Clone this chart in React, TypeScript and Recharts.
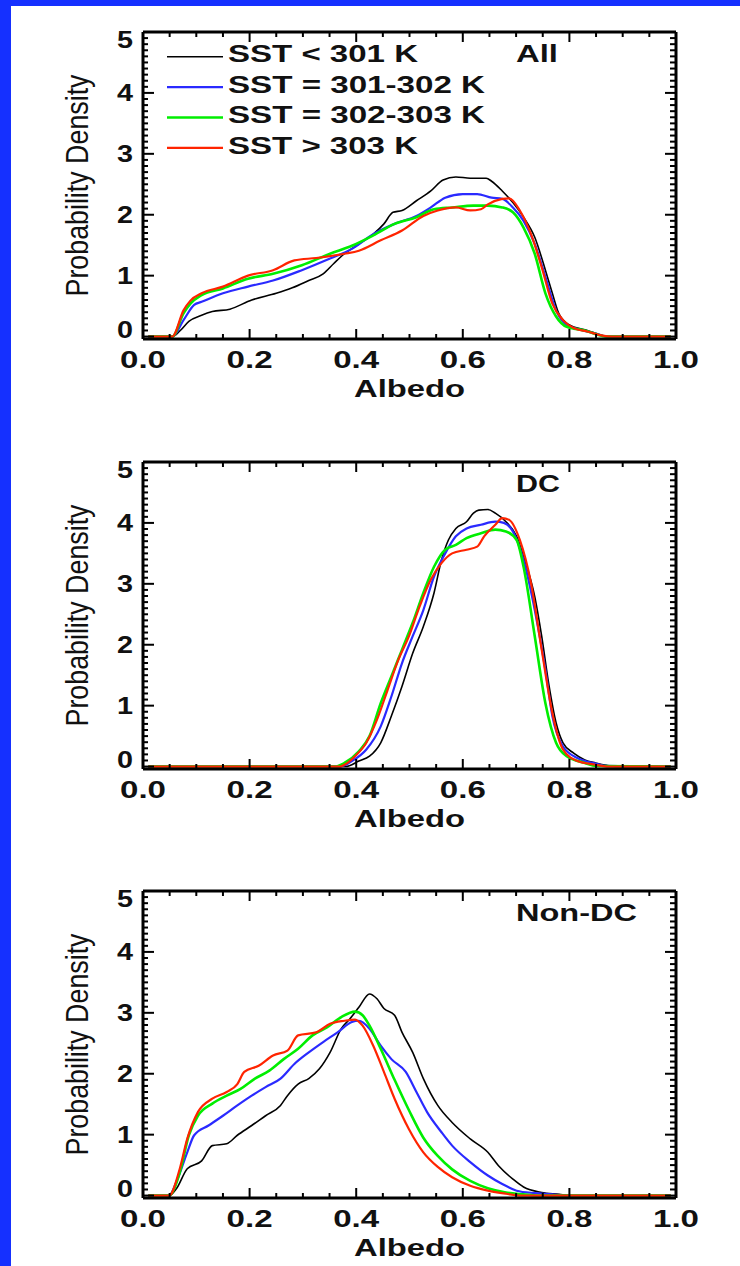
import React from 'react';
import { LineChart, Line, XAxis, YAxis, Legend } from 'recharts';

type Pt = [number, number];

// ---- tick values / labels ----
const X_MAJOR = [0, 0.2, 0.4, 0.6, 0.8, 1.0];
const X_LABELS = ['0.0', '0.2', '0.4', '0.6', '0.8', '1.0'];
const Y_MAJOR = [0, 1, 2, 3, 4, 5];
const Y_LABELS = ['0', '1', '2', '3', '4', '5'];
const X_TICKS = Array.from({ length: 21 }, (_, i) => Math.round(i * 5) / 100);
const Y_TICKS = Array.from({ length: 51 }, (_, i) => Math.round(i) / 10);
const Y_DOMAIN: [number, number] = [-0.04, 5];

// ---- series names / colours ----
const SERIES_NAMES = ['SST < 301 K', 'SST = 301-302 K', 'SST = 302-303 K', 'SST > 303 K'];
const SERIES_COLORS = ['#000000', '#2a2aff', '#00ee00', '#ff2400'];
const SERIES_WIDTHS = [1.6, 2.2, 2.6, 2.2];
const LEGEND_TEXT_LEN = [190, 257, 257, 190];

// ---- panel "All" ----
const allLt301: Pt[] = [[0.01,0],[0.055,0],[0.07,0.1],[0.086,0.25],[0.11,0.35],[0.13,0.41],[0.163,0.45],[0.204,0.6],[0.25,0.71],[0.28,0.8],[0.311,0.92],[0.338,1.03],[0.358,1.2],[0.378,1.36],[0.405,1.52],[0.432,1.68],[0.452,1.85],[0.469,2.04],[0.486,2.07],[0.513,2.23],[0.54,2.39],[0.563,2.57],[0.587,2.62],[0.614,2.6],[0.644,2.6],[0.654,2.55],[0.674,2.39],[0.694,2.2],[0.714,1.96],[0.735,1.63],[0.755,1.09],[0.768,0.71],[0.78,0.38],[0.8,0.19],[0.829,0.11],[0.85,0.05],[0.87,0],[0.99,0]];
const all301: Pt[] = [[0.01,0],[0.055,0],[0.076,0.27],[0.096,0.52],[0.11,0.57],[0.15,0.71],[0.197,0.82],[0.244,0.92],[0.298,1.09],[0.351,1.28],[0.392,1.44],[0.432,1.68],[0.472,1.85],[0.513,1.98],[0.54,2.12],[0.567,2.28],[0.6,2.34],[0.627,2.34],[0.654,2.28],[0.674,2.26],[0.694,2.12],[0.714,1.9],[0.735,1.52],[0.755,0.98],[0.775,0.43],[0.795,0.19],[0.822,0.11],[0.85,0.05],[0.87,0],[0.99,0]];
const all302: Pt[] = [[0.01,0],[0.055,0],[0.076,0.38],[0.089,0.54],[0.11,0.68],[0.15,0.79],[0.197,0.95],[0.244,1.03],[0.298,1.17],[0.351,1.36],[0.392,1.49],[0.432,1.66],[0.472,1.85],[0.513,1.96],[0.546,2.09],[0.58,2.12],[0.62,2.15],[0.647,2.15],[0.674,2.12],[0.694,2.04],[0.714,1.79],[0.735,1.36],[0.755,0.71],[0.775,0.33],[0.795,0.16],[0.829,0.1],[0.85,0.04],[0.87,0],[0.99,0]];
const allGt303: Pt[] = [[0.01,0],[0.055,0],[0.076,0.43],[0.089,0.59],[0.11,0.71],[0.15,0.82],[0.197,1.0],[0.244,1.09],[0.284,1.25],[0.325,1.29],[0.378,1.36],[0.405,1.41],[0.446,1.58],[0.486,1.74],[0.526,1.98],[0.553,2.07],[0.587,2.12],[0.614,2.07],[0.634,2.09],[0.647,2.17],[0.674,2.26],[0.687,2.27],[0.707,2.07],[0.728,1.68],[0.748,1.14],[0.768,0.54],[0.788,0.27],[0.808,0.14],[0.835,0.08],[0.86,0.02],[0.88,0],[0.99,0]];

// ---- panel "DC" ----
const dcLt301: Pt[] = [[0.01,0],[0.38,0],[0.405,0.09],[0.425,0.17],[0.446,0.39],[0.466,0.83],[0.486,1.32],[0.506,1.86],[0.526,2.3],[0.546,2.85],[0.56,3.39],[0.573,3.72],[0.587,3.91],[0.607,4.02],[0.62,4.16],[0.63,4.21],[0.647,4.22],[0.661,4.16],[0.681,4.02],[0.701,3.78],[0.714,3.45],[0.735,2.79],[0.748,2.14],[0.761,1.37],[0.775,0.72],[0.788,0.39],[0.808,0.22],[0.829,0.11],[0.849,0.06],[0.87,0.02],[0.89,0],[0.99,0]];
const dc301: Pt[] = [[0.01,0],[0.37,0],[0.392,0.09],[0.419,0.28],[0.446,0.66],[0.466,1.15],[0.486,1.7],[0.506,2.14],[0.526,2.57],[0.546,3.12],[0.567,3.5],[0.587,3.78],[0.607,3.91],[0.634,3.97],[0.661,4.02],[0.677,4.0],[0.694,3.86],[0.714,3.39],[0.735,2.57],[0.755,1.59],[0.768,0.83],[0.788,0.33],[0.815,0.14],[0.849,0.05],[0.87,0.01],[0.99,0]];
const dc302: Pt[] = [[0.01,0],[0.36,0],[0.378,0.06],[0.405,0.25],[0.425,0.5],[0.446,1.04],[0.466,1.48],[0.486,1.92],[0.506,2.36],[0.526,2.85],[0.546,3.28],[0.567,3.56],[0.587,3.64],[0.607,3.75],[0.634,3.83],[0.661,3.89],[0.681,3.86],[0.701,3.72],[0.714,3.28],[0.735,2.14],[0.755,1.04],[0.775,0.39],[0.795,0.17],[0.829,0.06],[0.85,0.01],[0.99,0]];
const dcGt303: Pt[] = [[0.01,0],[0.37,0],[0.378,0.03],[0.398,0.17],[0.419,0.39],[0.439,0.77],[0.459,1.26],[0.479,1.75],[0.499,2.14],[0.519,2.63],[0.54,3.07],[0.56,3.34],[0.58,3.5],[0.607,3.56],[0.627,3.61],[0.64,3.78],[0.661,3.97],[0.674,4.08],[0.687,4.05],[0.707,3.72],[0.728,3.01],[0.748,1.92],[0.768,0.88],[0.788,0.28],[0.815,0.09],[0.849,0.03],[0.87,0],[0.99,0]];

// ---- panel "Non-DC" ----
const ndLt301: Pt[] = [[0.01,0],[0.049,0],[0.0625,0.11],[0.083,0.44],[0.11,0.57],[0.13,0.82],[0.157,0.85],[0.177,0.99],[0.204,1.15],[0.23,1.31],[0.258,1.48],[0.271,1.64],[0.291,1.83],[0.311,1.92],[0.331,2.08],[0.351,2.35],[0.372,2.74],[0.388,2.9],[0.405,3.09],[0.425,3.31],[0.439,3.23],[0.452,3.07],[0.472,2.96],[0.486,2.68],[0.506,2.35],[0.526,1.92],[0.553,1.48],[0.58,1.2],[0.614,0.93],[0.647,0.71],[0.667,0.49],[0.694,0.27],[0.714,0.14],[0.748,0.05],[0.781,0.02],[0.8,0],[0.99,0]];
const nd301: Pt[] = [[0.01,0],[0.049,0],[0.0625,0.22],[0.083,0.71],[0.096,0.99],[0.123,1.15],[0.15,1.31],[0.177,1.48],[0.204,1.64],[0.23,1.78],[0.258,1.92],[0.284,2.16],[0.311,2.35],[0.338,2.52],[0.365,2.68],[0.392,2.85],[0.405,2.87],[0.425,2.74],[0.446,2.46],[0.466,2.24],[0.493,2.03],[0.513,1.7],[0.533,1.37],[0.56,1.04],[0.58,0.82],[0.614,0.55],[0.647,0.33],[0.674,0.19],[0.701,0.08],[0.735,0.04],[0.768,0.02],[0.79,0],[0.99,0]];
const nd302: Pt[] = [[0.01,0],[0.049,0],[0.069,0.38],[0.086,0.99],[0.103,1.31],[0.13,1.51],[0.157,1.64],[0.183,1.75],[0.21,1.92],[0.237,2.05],[0.264,2.24],[0.291,2.41],[0.318,2.63],[0.345,2.76],[0.372,2.93],[0.398,3.02],[0.412,2.96],[0.425,2.79],[0.446,2.41],[0.472,1.9],[0.499,1.4],[0.526,0.95],[0.553,0.65],[0.58,0.43],[0.614,0.24],[0.647,0.12],[0.681,0.05],[0.714,0.02],[0.74,0],[0.99,0]];
const ndGt303: Pt[] = [[0.01,0],[0.049,0],[0.069,0.44],[0.083,0.93],[0.103,1.37],[0.13,1.59],[0.157,1.7],[0.177,1.83],[0.19,2.03],[0.217,2.13],[0.244,2.3],[0.271,2.38],[0.291,2.63],[0.325,2.68],[0.351,2.82],[0.378,2.87],[0.398,2.89],[0.412,2.79],[0.432,2.46],[0.452,2.03],[0.472,1.59],[0.499,1.09],[0.526,0.71],[0.553,0.47],[0.58,0.3],[0.614,0.16],[0.647,0.08],[0.681,0.03],[0.71,0],[0.99,0]];

const PANEL_LABELS = ['All', 'DC', 'Non-DC'];
const PANEL_LABEL_LEN = [42, 44, 121];
const PANEL_SERIES: Pt[][][] = [
  [allLt301, all301, all302, allGt303],
  [dcLt301, dc301, dc302, dcGt303],
  [ndLt301, nd301, nd302, ndGt303],
];
const PANEL_TOPS = [0, 430, 859];

const FONT = "'Liberation Sans', Arial, Helvetica, sans-serif";
const INK = '#111';

const toRows = (pts: Pt[]) => pts.map(([x, y]) => ({ x, y }));
const majorIndex = (arr: number[], v: number) => arr.findIndex((m) => Math.abs(m - v) < 1e-6);

const BottomTick = (props: any) => {
  const { x, y, payload } = props;
  const idx = majorIndex(X_MAJOR, payload.value);
  const major = idx >= 0;
  return (
    <g>
      <line x1={x} y1={y} x2={x} y2={y - (major ? 10 : 5)} stroke="#000" strokeWidth={2} />
      {major && (
        <text x={x} y={y + 28.5} textAnchor="middle" fontFamily={FONT} fontWeight={700} fontSize={23}
          fill={INK} textLength={46} lengthAdjust="spacingAndGlyphs">{X_LABELS[idx]}</text>
      )}
    </g>
  );
};

const TopTick = (props: any) => {
  const { x, y, payload } = props;
  const major = majorIndex(X_MAJOR, payload.value) >= 0;
  return <line x1={x} y1={y} x2={x} y2={y + (major ? 10 : 5)} stroke="#000" strokeWidth={2} />;
};

const LeftTick = (props: any) => {
  const { x, y, payload } = props;
  const idx = majorIndex(Y_MAJOR, payload.value);
  const major = idx >= 0;
  let base = y + 8;
  if (idx === 0) base = y + 1.5;
  if (idx === Y_MAJOR.length - 1) base = y + 15.5;
  return (
    <g>
      <line x1={x} y1={y} x2={x + (major ? 11 : 5)} y2={y} stroke="#000" strokeWidth={2} />
      {major && (
        <text x={x - 10} y={base} textAnchor="end" fontFamily={FONT} fontWeight={700} fontSize={23}
          fill={INK} textLength={16} lengthAdjust="spacingAndGlyphs">{Y_LABELS[idx]}</text>
      )}
    </g>
  );
};

const RightTick = (props: any) => {
  const { x, y, payload } = props;
  const major = majorIndex(Y_MAJOR, payload.value) >= 0;
  return <line x1={x} y1={y} x2={x - (major ? 11 : 6)} y2={y} stroke="#000" strokeWidth={2} />;
};

const renderLegend = (props: any) => {
  const payload: any[] = props && props.payload ? props.payload : [];
  const items = payload.length
    ? payload.map((p: any) => ({ name: String(p.value), color: p.color }))
    : SERIES_NAMES.map((n, i) => ({ name: n, color: SERIES_COLORS[i] }));
  return (
    <svg width={340} height={130} style={{ display: 'block', overflow: 'visible' }}>
      {items.map((it, i) => {
        const si = Math.max(0, SERIES_NAMES.indexOf(it.name));
        const ly = 21.7 + i * 30.4;
        return (
          <g key={it.name}>
            <line x1={7} x2={63} y1={ly} y2={ly} stroke={it.color} strokeWidth={SERIES_WIDTHS[si]} />
            <text x={68} y={ly + 5.6} fontFamily={FONT} fontWeight={700} fontSize={24} fill={INK}
              textLength={LEGEND_TEXT_LEN[si]} lengthAdjust="spacingAndGlyphs">{it.name}</text>
          </g>
        );
      })}
    </svg>
  );
};

const Panel = ({ index }: { index: number }) => {
  const series = PANEL_SERIES[index];
  const albedoLabel = (p: any) => {
    const vb = p.viewBox || {};
    return (
      <text x={vb.x + vb.width / 2} y={vb.y + 58} textAnchor="middle" fontFamily={FONT} fontWeight={700}
        fontSize={24} fill={INK} textLength={111} lengthAdjust="spacingAndGlyphs">Albedo</text>
    );
  };
  const yLabel = (p: any) => {
    const vb = p.viewBox || {};
    const cx = vb.x + vb.width - 55;
    const cy = vb.y + vb.height / 2;
    return (
      <text x={cx} y={cy} transform={`rotate(-90, ${cx}, ${cy})`} textAnchor="middle" fontFamily={FONT}
        fontWeight={400} fontSize={31} fill={INK} textLength={222} lengthAdjust="spacingAndGlyphs">
        Probability Density
      </text>
    );
  };
  const panelLabel = (p: any) => {
    const vb = p.viewBox || {};
    return (
      <text x={vb.x + 373} y={vb.y + vb.height + 30} textAnchor="start" fontFamily={FONT} fontWeight={700}
        fontSize={24} fill={INK} textLength={PANEL_LABEL_LEN[index]} lengthAdjust="spacingAndGlyphs">
        {PANEL_LABELS[index]}
      </text>
    );
  };
  return (
    <div style={{ position: 'absolute', left: 0, top: PANEL_TOPS[index], width: 740, height: 430 }}>
      <LineChart width={740} height={430} margin={{ top: 2, right: 24, bottom: 31, left: 83 }}>
        <XAxis xAxisId="b" dataKey="x" type="number" domain={[0, 1]} allowDataOverflow ticks={X_TICKS}
          interval={0} tickSize={0} tickMargin={0} tickLine={false} tick={<BottomTick />} height={60}
          axisLine={{ stroke: '#000', strokeWidth: 3 }} label={{ content: albedoLabel }} />
        <XAxis xAxisId="t" orientation="top" dataKey="x" type="number" domain={[0, 1]} allowDataOverflow
          ticks={X_TICKS} interval={0} tickSize={0} tickMargin={0} tickLine={false} tick={<TopTick />}
          height={30} axisLine={{ stroke: '#000', strokeWidth: 3 }} label={{ content: panelLabel }} />
        <YAxis yAxisId="l" type="number" domain={Y_DOMAIN} allowDataOverflow ticks={Y_TICKS} interval={0}
          tickSize={0} tickMargin={0} tickLine={false} tick={<LeftTick />} width={60}
          axisLine={{ stroke: '#000', strokeWidth: 3 }} label={{ content: yLabel }} />
        <YAxis yAxisId="r" orientation="right" type="number" domain={Y_DOMAIN} allowDataOverflow ticks={Y_TICKS}
          interval={0} tickSize={0} tickMargin={0} tickLine={false} tick={<RightTick />} width={40}
          axisLine={{ stroke: '#000', strokeWidth: 3 }} />
        {series.map((pts, i) => (
          <Line key={SERIES_NAMES[i]} xAxisId="b" yAxisId="l" data={toRows(pts)} dataKey="y"
            name={SERIES_NAMES[i]} type="monotone" stroke={SERIES_COLORS[i]} strokeWidth={SERIES_WIDTHS[i]}
            dot={false} activeDot={false} isAnimationActive={false} />
        ))}
        {index === 0 && (
          <Legend layout="vertical" align="center" verticalAlign="middle" width={340} height={130}
            wrapperStyle={{ left: 160, top: 35, width: 340, height: 130 }} content={renderLegend} />
        )}
      </LineChart>
    </div>
  );
};

export default function App() {
  return (
    <div style={{ position: 'absolute', left: 0, top: 0, width: 740, height: 1266, background: '#fff', overflow: 'hidden' }}>
      {[0, 1, 2].map((i) => <Panel key={i} index={i} />)}
      <div style={{ position: 'absolute', left: 0, top: 0, width: 11, height: 1266, background: '#1530ff' }} />
      <div style={{ position: 'absolute', left: 0, top: 0, width: 740, height: 6, background: '#1530ff' }} />
    </div>
  );
}
